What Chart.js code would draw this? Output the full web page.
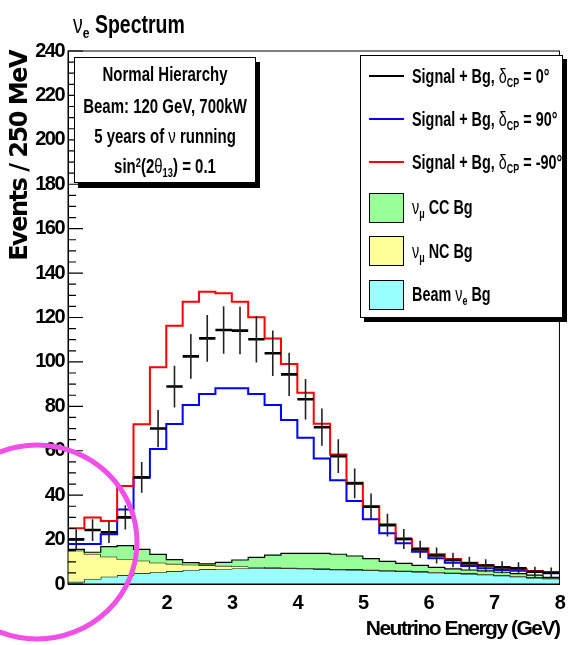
<!DOCTYPE html>
<html>
<head>
<meta charset="utf-8">
<title>nu_e spectrum</title>
<script src="https://cdn.jsdelivr.net/npm/chart.js@4.4.1/dist/chart.umd.min.js"></script>
<style>
  body { margin: 0; background: #fff; }
  #wrap { position: relative; width: 572px; height: 645px; overflow: hidden;
          font-family: 'Liberation Sans', Arial, sans-serif; font-weight: bold; color: #000; }
  #chart { position: absolute; left: 0; top: 0; }
  .sym { font-weight: normal; }
  .lo { font-size: 0.62em; position: relative; top: 0.35em; }
  .hi { font-size: 0.62em; position: relative; top: -0.45em; }
  #title { position: absolute; left: 73px; top: 9px; font-size: 25px; line-height: 30px; white-space: nowrap;
           transform: scaleX(0.78); transform-origin: left center; }
  #info { position: absolute; left: 74px; top: 57px; width: 180px; height: 124px; background: #fff;
          border: 1.5px solid #000; box-shadow: 4px 5px 0 #000; text-align: center; font-size: 20px; }
  #info div { position: absolute; left: -60px; right: -60px; height: 24px; line-height: 24px; white-space: nowrap;
              transform: scaleX(0.75); transform-origin: center; }
  #legend { position: absolute; left: 360px; top: 55px; width: 201px; height: 261px; background: #fff;
            border: 1.5px solid #000; box-shadow: 4px 4px 0 #000; font-size: 20px; }
  .row { position: absolute; left: 51px; height: 24px; line-height: 24px; white-space: nowrap;
         transform: scaleX(0.72); transform-origin: left center; }
  .ln { position: absolute; left: 8px; width: 35px; height: 2px; }
  .sw { position: absolute; left: 8px; width: 33px; height: 28px; border: 1px solid #000; }
</style>
</head>
<body>
<div id="wrap">
  <canvas id="chart" width="572" height="645"></canvas>

  <div id="title"><span class="sym">ν</span><span class="lo">e</span> Spectrum</div>

  <div id="info">
    <div style="top:4px">Normal Hierarchy</div>
    <div style="top:36px">Beam: 120 GeV, 700kW</div>
    <div style="top:66px">5 years of <span class="sym">ν</span> running</div>
    <div style="top:96px">sin<span class="hi">2</span>(2<span class="sym">θ</span><span class="lo">13</span>) = 0.1</div>
  </div>

  <div id="legend">
    <div class="ln" style="top:19px; background:#000"></div>
    <div class="row" style="top:8px">Signal + Bg, <span class="sym">δ</span><span class="lo">CP</span> = 0°</div>
    <div class="ln" style="top:62px; background:#0000ff"></div>
    <div class="row" style="top:51px">Signal + Bg, <span class="sym">δ</span><span class="lo">CP</span> = 90°</div>
    <div class="ln" style="top:105px; background:#ff0000"></div>
    <div class="row" style="top:94px">Signal + Bg, <span class="sym">δ</span><span class="lo">CP</span> = -90°</div>
    <div class="sw" style="top:137px; background:#99ff99"></div>
    <div class="row" style="top:139px"><span class="sym">ν</span><span class="lo">μ</span> CC Bg</div>
    <div class="sw" style="top:180px; background:#ffff99"></div>
    <div class="row" style="top:183px"><span class="sym">ν</span><span class="lo">μ</span> NC Bg</div>
    <div class="sw" style="top:224px; background:#99ffff"></div>
    <div class="row" style="top:226px">Beam <span class="sym">ν</span><span class="lo">e</span> Bg</div>
  </div>
</div>

<script>
    // --- Data (250 MeV bins, lower edges in GeV) ---
    const binLow = [0.5, 0.75, 1.0, 1.25, 1.5, 1.75, 2.0, 2.25, 2.5, 2.75,
                    3.0, 3.25, 3.5, 3.75, 4.0, 4.25, 4.5, 4.75, 5.0, 5.25,
                    5.5, 5.75, 6.0, 6.25, 6.5, 6.75, 7.0, 7.25, 7.5, 7.75];
    const xMax = 8;
    const yTicks = [0, 20, 40, 60, 80, 100, 120, 140, 160, 180, 200, 220, 240];

    // signal + background, delta_CP = 0 (points with errors)
    const sigDcp0 = [20.1, 24.3, 23.3, 30.0, 48.0, 70.0, 88.9, 102.5, 110.6, 114.4,
                     114.1, 110.2, 103.9, 94.4, 83.2, 70.6, 57.6, 45.3, 34.8, 26.5,
                     20.3, 15.6, 12.8, 10.8, 9.3, 8.3, 7.5, 7.1, 5.5, 5.1];
    const errDcp0 = [4.5, 4.9, 4.8, 5.5, 6.9, 8.4, 9.4, 10.1, 10.5, 10.7,
                     10.7, 10.5, 10.2, 9.7, 9.1, 8.4, 7.6, 6.7, 5.9, 5.1,
                     4.5, 3.9, 3.6, 3.3, 3.0, 2.9, 2.7, 2.7, 2.3, 2.3];
    // delta_CP = 90
    const sigDcp90 = [18.0, 18.0, 22.4, 33.6, 47.9, 60.8, 72.0, 80.6, 85.6, 88.1,
                      88.1, 85.6, 80.6, 73.8, 65.9, 56.5, 46.7, 37.4, 29.1, 22.8,
                      18.3, 14.5, 11.6, 9.6, 8.1, 7.1, 6.3, 6.0, 5.5, 4.8];
    // delta_CP = -90
    const sigDcpM90 = [25.1, 29.9, 28.4, 44.1, 71.9, 97.6, 116.3, 127.1, 131.6, 130.9,
                       127.1, 120.1, 110.6, 99.1, 86.1, 72.2, 58.3, 45.6, 35.0, 26.8,
                       20.1, 16.1, 13.4, 11.3, 9.6, 8.4, 7.5, 6.6, 5.9, 5.1];

    // backgrounds (stacked: beam nu_e, then NC, then CC)
    const beamNueBg = [1.0, 2.3, 3.3, 4.0, 4.8, 5.3, 5.8, 6.3, 6.6, 6.8,
                       7.0, 7.1, 7.1, 7.0, 6.9, 6.7, 6.5, 6.3, 6.1, 5.9,
                       5.7, 5.4, 5.1, 4.8, 4.5, 4.2, 3.8, 3.3, 2.8, 2.4];
    const numuNcBg = [14.0, 11.2, 9.0, 7.3, 5.7, 4.3, 3.3, 2.4, 1.8, 1.4,
                      0.9, 0.6, 0.3, 0.3, 0.2, 0.3, 0.3, 0.3, 0.3, 0.3,
                      0.3, 0.3, 0.3, 0.3, 0.3, 0.3, 0.3, 0.3, 0.3, 0.2];
    const numuCcBg = [0.6, 0.8, 4.5, 6.0, 5.1, 3.7, 1.9, 0.9, 0.7, 1.5,
                      2.9, 4.3, 5.6, 6.5, 6.7, 6.8, 6.6, 6.0, 5.0, 4.0,
                      3.3, 2.7, 2.1, 1.7, 1.5, 1.4, 1.2, 1.1, 0.9, 0.4];

    const SANS = "'Liberation Sans', Arial, sans-serif";
    const edges = binLow.concat([xMax]);

    // histogram outline: one point per lower edge, last value repeated at the upper edge
    function stepPoints(vals) {
        return edges.map((x, i) => ({ x: x, y: vals[Math.min(i, vals.length - 1)] }));
    }

    const stackNc = beamNueBg.map((v, i) => v + numuNcBg[i]);
    const stackCc = stackNc.map((v, i) => v + numuCcBg[i]);

    // error bar crosses, broken with nulls
    const errV = [];
    const errH = [];
    sigDcp0.forEach((v, i) => {
        const lo = edges[i], hi = edges[i + 1], mid = (lo + hi) / 2;
        errV.push({ x: mid, y: v - errDcp0[i] }, { x: mid, y: v + errDcp0[i] }, { x: mid, y: null });
        errH.push({ x: lo, y: v }, { x: hi, y: v }, { x: hi, y: null });
    });

    const histStyle = { stepped: 'before', pointRadius: 0, tension: 0 };

    // tighter text on the canvas (ROOT's helvetica looks condensed)
    const narrowText = {
        id: 'narrowText',
        beforeDraw(chart) {
            chart.ctx.letterSpacing = '-1.5px';
        }
    };

    // --- Frame + inner y ticks, like ROOT ---
    const framePlugin = {
        id: 'frame',
        afterDatasetsDraw(chart) {
            const { ctx, chartArea: a, scales: { y } } = chart;
            ctx.save();
            ctx.strokeStyle = '#000';
            ctx.lineWidth = 1.2;
            ctx.beginPath();
            for (let v = 0; v <= 240; v += 5) {
                const py = y.getPixelForValue(v);
                ctx.moveTo(a.left, py);
                ctx.lineTo(a.left + (v % 20 === 0 ? 15 : 8), py);
            }
            ctx.stroke();
            ctx.lineWidth = 1;
            ctx.strokeRect(a.left, a.top, a.right - a.left, a.bottom - a.top);
            ctx.restore();
        }
    };

    // magenta hand-drawn circle on the low energy region
    const circlePlugin = {
        id: 'circle',
        afterDraw(chart) {
            const ctx = chart.ctx;
            ctx.save();
            ctx.strokeStyle = '#f050e8';
            ctx.lineWidth = 5;
            ctx.beginPath();
            ctx.ellipse(37, 542, 100, 97, 0, 0, Math.PI * 2);
            ctx.stroke();
            ctx.restore();
        }
    };

    const ctx = document.getElementById('chart').getContext('2d');
    const chart = new Chart(ctx, {
        type: 'line',
        data: {
            datasets: [
                { label: 'Beam nu_e Bg', data: stepPoints(beamNueBg), ...histStyle,
                  borderColor: '#000', borderWidth: 1.2, backgroundColor: '#99ffff', fill: 'origin', order: 5 },
                { label: 'nu_mu NC Bg', data: stepPoints(stackNc), ...histStyle,
                  borderColor: '#000', borderWidth: 1.2, backgroundColor: '#ffff99', fill: '-1', order: 4 },
                { label: 'nu_mu CC Bg', data: stepPoints(stackCc), ...histStyle,
                  borderColor: '#000', borderWidth: 1.2, backgroundColor: '#99ff99', fill: '-1', order: 3 },
                { label: 'dCP = 90', data: stepPoints(sigDcp90), ...histStyle,
                  borderColor: '#0000ff', borderWidth: 2, fill: false, order: 2 },
                { label: 'dCP = -90', data: stepPoints(sigDcpM90), ...histStyle,
                  borderColor: '#ff0000', borderWidth: 2, fill: false, order: 1 },
                { label: 'dCP = 0 err', data: errV, pointRadius: 0, borderColor: '#222',
                  borderWidth: 1.6, fill: false, spanGaps: false, order: 0 },
                { label: 'dCP = 0', data: errH, pointRadius: 0, borderColor: '#000',
                  borderWidth: 2.6, fill: false, spanGaps: false, order: 0 }
            ]
        },
        options: {
            responsive: false,
            animation: false,
            layout: { padding: { top: 51, right: 5, left: 0, bottom: 0 } },
            plugins: {
                legend: { display: false },
                tooltip: { enabled: false }
            },
            scales: {
                x: {
                    type: 'linear',
                    min: binLow[0],
                    max: xMax,
                    afterFit: s => { s.height = 61; },
                    grid: { display: false, drawTicks: false },
                    border: { display: true, color: '#000', width: 1 },
                    ticks: {
                        stepSize: 1, autoSkip: false, maxRotation: 0, padding: 7,
                        color: '#000', font: { family: SANS, size: 20, weight: 'bold' },
                        callback: v => Number.isInteger(v) ? v : ''
                    },
                    title: {
                        display: true, text: 'Neutrino Energy (GeV)', align: 'end', color: '#000',
                        font: { family: SANS, size: 21, weight: 'bold' },
                        padding: { top: 0, bottom: 3 }
                    }
                },
                y: {
                    min: yTicks[0],
                    max: yTicks[yTicks.length - 1],
                    afterFit: s => { s.width = 68; },
                    afterBuildTicks: s => { s.ticks = yTicks.map(v => ({ value: v })); },
                    grid: { display: false, drawTicks: false },
                    border: { display: true, color: '#000', width: 1 },
                    ticks: {
                        padding: 4, color: '#000',
                        font: { family: SANS, size: 20, weight: 'bold' }
                    },
                    title: {
                        display: true, text: 'Events / 250 MeV', align: 'end', color: '#000',
                        font: { family: "'DejaVu Sans', sans-serif", size: 24, weight: 'bold' },
                        padding: { top: 6, bottom: 0 }
                    }
                }
            }
        },
        plugins: [narrowText, framePlugin, circlePlugin]
    });
</script>
</body>
</html>
